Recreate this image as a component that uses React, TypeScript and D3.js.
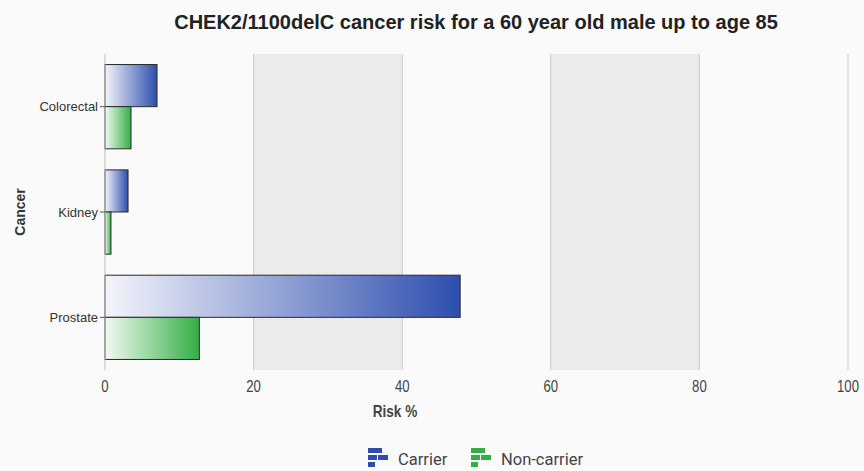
import React from "react";
import * as d3 from "d3";

const categories = ["Colorectal", "Kidney", "Prostate"];
const carrierRisk = [7, 3.1, 47.8];
const nonCarrierRisk = [3.5, 0.8, 12.7];
const seriesNames = ["Carrier", "Non-carrier"];
const xTicks = [0, 20, 40, 60, 80, 100];

const W = 864;
const H = 471;
const margin = { left: 105, right: 16, top: 54, bottom: 101 };

const seriesColors = ["#2d4eae", "#34ae45"];
const seriesLight = ["#f4f4fa", "#f2faf2"];

export default function App() {
  const x = d3.scaleLinear().domain([0, 100]).range([margin.left, W - margin.right]);
  const y = d3
    .scaleBand<string>()
    .domain(categories)
    .range([margin.top, H - margin.bottom])
    .paddingInner(0.2)
    .paddingOuter(0.1);
  const sub = d3.scaleBand<number>().domain([0, 1]).range([0, y.bandwidth()]);
  const series = [carrierRisk, nonCarrierRisk];
  const plotTop = margin.top;
  const plotBottom = H - margin.bottom;

  const bands = d3.range(0, xTicks.length - 1).filter((i) => i % 2 === 1);

  return (
    <svg
      width={W}
      height={H}
      style={{ position: "absolute", left: 0, top: 0, background: "#fafafa" }}
      fontFamily="'Liberation Sans', Arial, sans-serif"
    >
      <defs>
        {seriesColors.map((c, i) => (
          <linearGradient key={i} id={`grad${i}`} x1="0" x2="1" y1="0" y2="0">
            <stop offset="0%" stopColor={seriesLight[i]} />
            <stop offset="100%" stopColor={c} />
          </linearGradient>
        ))}
      </defs>

      <text x={476} y={29} textAnchor="middle" fontSize={20} fontWeight="bold" fill="#222">
        CHEK2/1100delC cancer risk for a 60 year old male up to age 85
      </text>

      {bands.map((i) => (
        <rect
          key={i}
          x={x(xTicks[i])}
          y={plotTop}
          width={x(xTicks[i + 1]) - x(xTicks[i])}
          height={plotBottom - plotTop}
          fill="#ebebeb"
        />
      ))}
      {xTicks.slice(1).map((t) => (
        <line key={t} x1={x(t)} x2={x(t)} y1={plotTop} y2={plotBottom} stroke="#c8c8c8" strokeWidth={1} />
      ))}

      {categories.map((cat, ci) =>
        series.map((vals, si) => (
          <rect
            key={`${cat}-${si}`}
            x={x(0)}
            y={(y(cat) as number) + (sub(si) as number)}
            width={x(vals[ci]) - x(0)}
            height={sub.bandwidth()}
            fill={`url(#grad${si})`}
            stroke="#2a2a2a"
            strokeWidth={1}
          />
        ))
      )}

      <line x1={x(0)} x2={x(0)} y1={plotTop} y2={plotBottom} stroke="#bbb" />
      {categories.map((cat) => {
        const cy = (y(cat) as number) + y.bandwidth() / 2;
        return (
          <g key={cat}>
            <line x1={x(0) - 5} x2={x(0)} y1={cy} y2={cy} stroke="#555" />
            <text x={x(0) - 7} y={cy} dy="0.35em" textAnchor="end" fontSize={13} fill="#333">
              {cat}
            </text>
          </g>
        );
      })}

      {xTicks.map((t) => (
        <text
          key={t}
          transform={`translate(${x(t)}, 392) scale(0.82, 1)`}
          textAnchor="middle"
          fontSize={16}
          fill="#444"
        >
          {t}
        </text>
      ))}

      <text
        transform={`translate(395, 417) scale(0.85, 1)`}
        textAnchor="middle"
        fontSize={16}
        fontWeight="bold"
        fill="#444"
      >
        Risk %
      </text>
      <text
        transform={`translate(25, ${(plotTop + plotBottom) / 2}) rotate(-90)`}
        textAnchor="middle"
        fontSize={14}
        fontWeight="bold"
        fill="#333"
      >
        Cancer
      </text>

      {seriesNames.map((name, i) => {
        const lx = i === 0 ? 368 : 471;
        const c = seriesColors[i];
        return (
          <g key={name}>
            <rect x={lx} y={448} width={14} height={5} fill={c} />
            <rect x={lx} y={455} width={9} height={5} fill={c} />
            <rect x={lx + 10} y={455} width={10} height={5} fill={c} />
            <rect x={lx} y={462} width={7} height={5} fill={c} />
            <text x={lx + 30} y={465} fontSize={16.5} fill="#444" fontFamily="Roboto, 'Liberation Sans', sans-serif">
              {name}
            </text>
          </g>
        );
      })}
    </svg>
  );
}
